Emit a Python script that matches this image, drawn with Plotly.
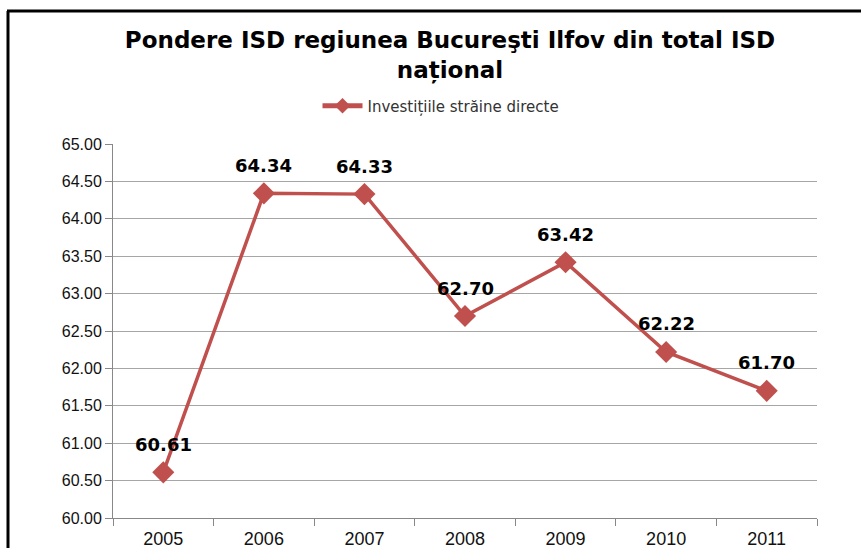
import plotly.graph_objects as go

years = ["2005", "2006", "2007", "2008", "2009", "2010", "2011"]
values = [60.61, 64.34, 64.33, 62.70, 63.42, 62.22, 61.70]
series_name = "Investițiile străine directe"
title_text = "<b>Pondere ISD regiunea Bucureşti Ilfov din total ISD<br>național</b>"
y_ticks = [60.0, 60.5, 61.0, 61.5, 62.0, 62.5, 63.0, 63.5, 64.0, 64.5, 65.0]

FONT = "Liberation Sans, Arial, sans-serif"
WIDE = "DejaVu Sans, Verdana, sans-serif"
RED = "#C0504D"

fig = go.Figure()
fig.add_trace(go.Scatter(
    x=years, y=values, mode="lines+markers", name=series_name,
    line=dict(color=RED, width=3.5),
    marker=dict(symbol="diamond", size=17, color=RED),
))

annotations = [
    dict(x=i, y=v, xref="x", yref="y", text=f"<b>{v:.2f}</b>", showarrow=False, yshift=28,
         font=dict(family=WIDE, size=18, color="#000000"))
    for i, v in enumerate(values)
]

W, H = 861, 548
L, R, T, B = 113, 44, 144, 30
pw, ph = W - L - R, H - T - B
def px(xp):
    return (xp - L) / pw
def py(yp):
    return (H - B - yp) / ph

shapes = [
    dict(type="line", xref="paper", yref="paper", x0=px(8), x1=px(8), y0=py(H + 5), y1=py(11),
         line=dict(color="#000000", width=3)),
    dict(type="line", xref="paper", yref="paper", x0=px(7), x1=px(W + 5), y0=py(11), y1=py(11),
         line=dict(color="#000000", width=3)),
]

fig.update_layout(
    width=W, height=H,
    margin=dict(l=L, r=R, t=T, b=B),
    paper_bgcolor="white", plot_bgcolor="white",
    font=dict(family=FONT, color="#000000"),
    title=dict(text=title_text, x=450 / W, xanchor="center", y=1 - 48 / H, yanchor="top",
               font=dict(family=WIDE, size=23, color="#000000")),
    showlegend=True,
    legend=dict(orientation="h", x=px(441), xanchor="center", y=py(106), yanchor="middle",
                font=dict(family=WIDE, size=15, color="#333333"), itemwidth=40,
                itemsizing="constant", bgcolor="rgba(0,0,0,0)"),
    xaxis=dict(type="category", range=[-0.5, 6.5], tickson="boundaries", ticks="outside",
               ticklen=7, tickcolor="#888888", showgrid=False, showline=True,
               linecolor="#888888", linewidth=1, ticklabelstandoff=4, automargin=False,
               tickfont=dict(family=FONT, size=18, color="#111111")),
    yaxis=dict(range=[60, 65], tickvals=y_ticks, tickformat=".2f", ticks="outside", ticklen=7,
               tickcolor="#888888", showgrid=True, gridcolor="#A6A6A6", gridwidth=1,
               showline=True, linecolor="#888888", linewidth=1, zeroline=False,
               automargin=False,
               tickfont=dict(family=FONT, size=16, color="#111111")),
    annotations=annotations,
    shapes=shapes,
)

fig.write_html("out.html", config={"displayModeBar": False},
               post_script="document.body.style.margin='0';")
